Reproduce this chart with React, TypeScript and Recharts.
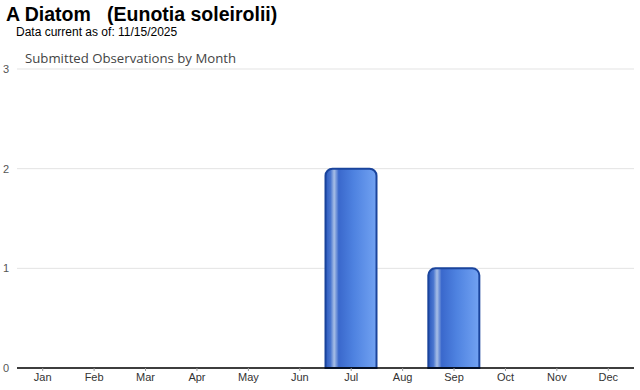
import { Bar, BarChart, CartesianGrid, XAxis, YAxis } from "recharts";

const months = ["Jan", "Feb", "Mar", "Apr", "May", "Jun", "Jul", "Aug", "Sep", "Oct", "Nov", "Dec"];
const observations = [0, 0, 0, 0, 0, 0, 2, 0, 1, 0, 0, 0];
const yTicks = [0, 1, 2, 3];

const data = months.map((month, i) => ({ month, count: observations[i] }));

export default function App() {
  return (
    <div
      style={{
        position: "fixed",
        left: 0,
        top: 0,
        width: 640,
        height: 390,
        background: "#fff",
        fontFamily: "'Liberation Sans', Arial, sans-serif",
      }}
    >
      <div style={{ position: "absolute", left: 6, top: 3, fontSize: 19.5, fontWeight: "bold", whiteSpace: "pre", color: "#000" }}>
        {"A Diatom   (Eunotia soleirolii)"}
      </div>
      <div style={{ position: "absolute", left: 16, top: 25, fontSize: 12, color: "#000" }}>
        Data current as of: 11/15/2025
      </div>
      <div
        style={{
          position: "absolute",
          left: 25,
          top: 49,
          fontSize: 13.2,
          color: "#444",
          fontFamily: "'Open Sans', sans-serif",
        }}
      >
        Submitted Observations by Month
      </div>
      <BarChart
        width={640}
        height={390}
        data={data}
        margin={{ top: 69, right: 6, bottom: 0, left: 0 }}
        barCategoryGap="0%"
        style={{ position: "absolute", left: 0, top: 0 }}
      >
        <defs>
          <linearGradient id="barFill" x1="0" y1="0" x2="1" y2="0">
            <stop offset="0%" stopColor="#2a58bd" />
            <stop offset="10%" stopColor="#4a76cf" />
            <stop offset="17%" stopColor="#a8bfe6" />
            <stop offset="26%" stopColor="#3a68cc" />
            <stop offset="55%" stopColor="#4e82e0" />
            <stop offset="100%" stopColor="#72a2f2" />
          </linearGradient>
        </defs>
        <CartesianGrid vertical={false} stroke="#e3e3e3" />
        <XAxis
          dataKey="month"
          height={22}
          axisLine={{ stroke: "#000", strokeWidth: 1.5 }}
          tickLine={{ stroke: "#999" }}
          tickSize={3}
          tick={{ fontSize: 11, fill: "#333", fontFamily: "'Liberation Sans', Arial, sans-serif" }}
          interval={0}
        />
        <YAxis
          width={17}
          domain={[0, 3]}
          ticks={yTicks}
          axisLine={false}
          tickLine={false}
          tickMargin={2}
          tick={{ fontSize: 11, fill: "#555", fontFamily: "'Liberation Sans', Arial, sans-serif" }}
        />
        <Bar
          dataKey="count"
          fill="url(#barFill)"
          stroke="#1a449c"
          strokeWidth={2}
          radius={[7, 7, 0, 0]}
          isAnimationActive={false}
        />
      </BarChart>
    </div>
  );
}
